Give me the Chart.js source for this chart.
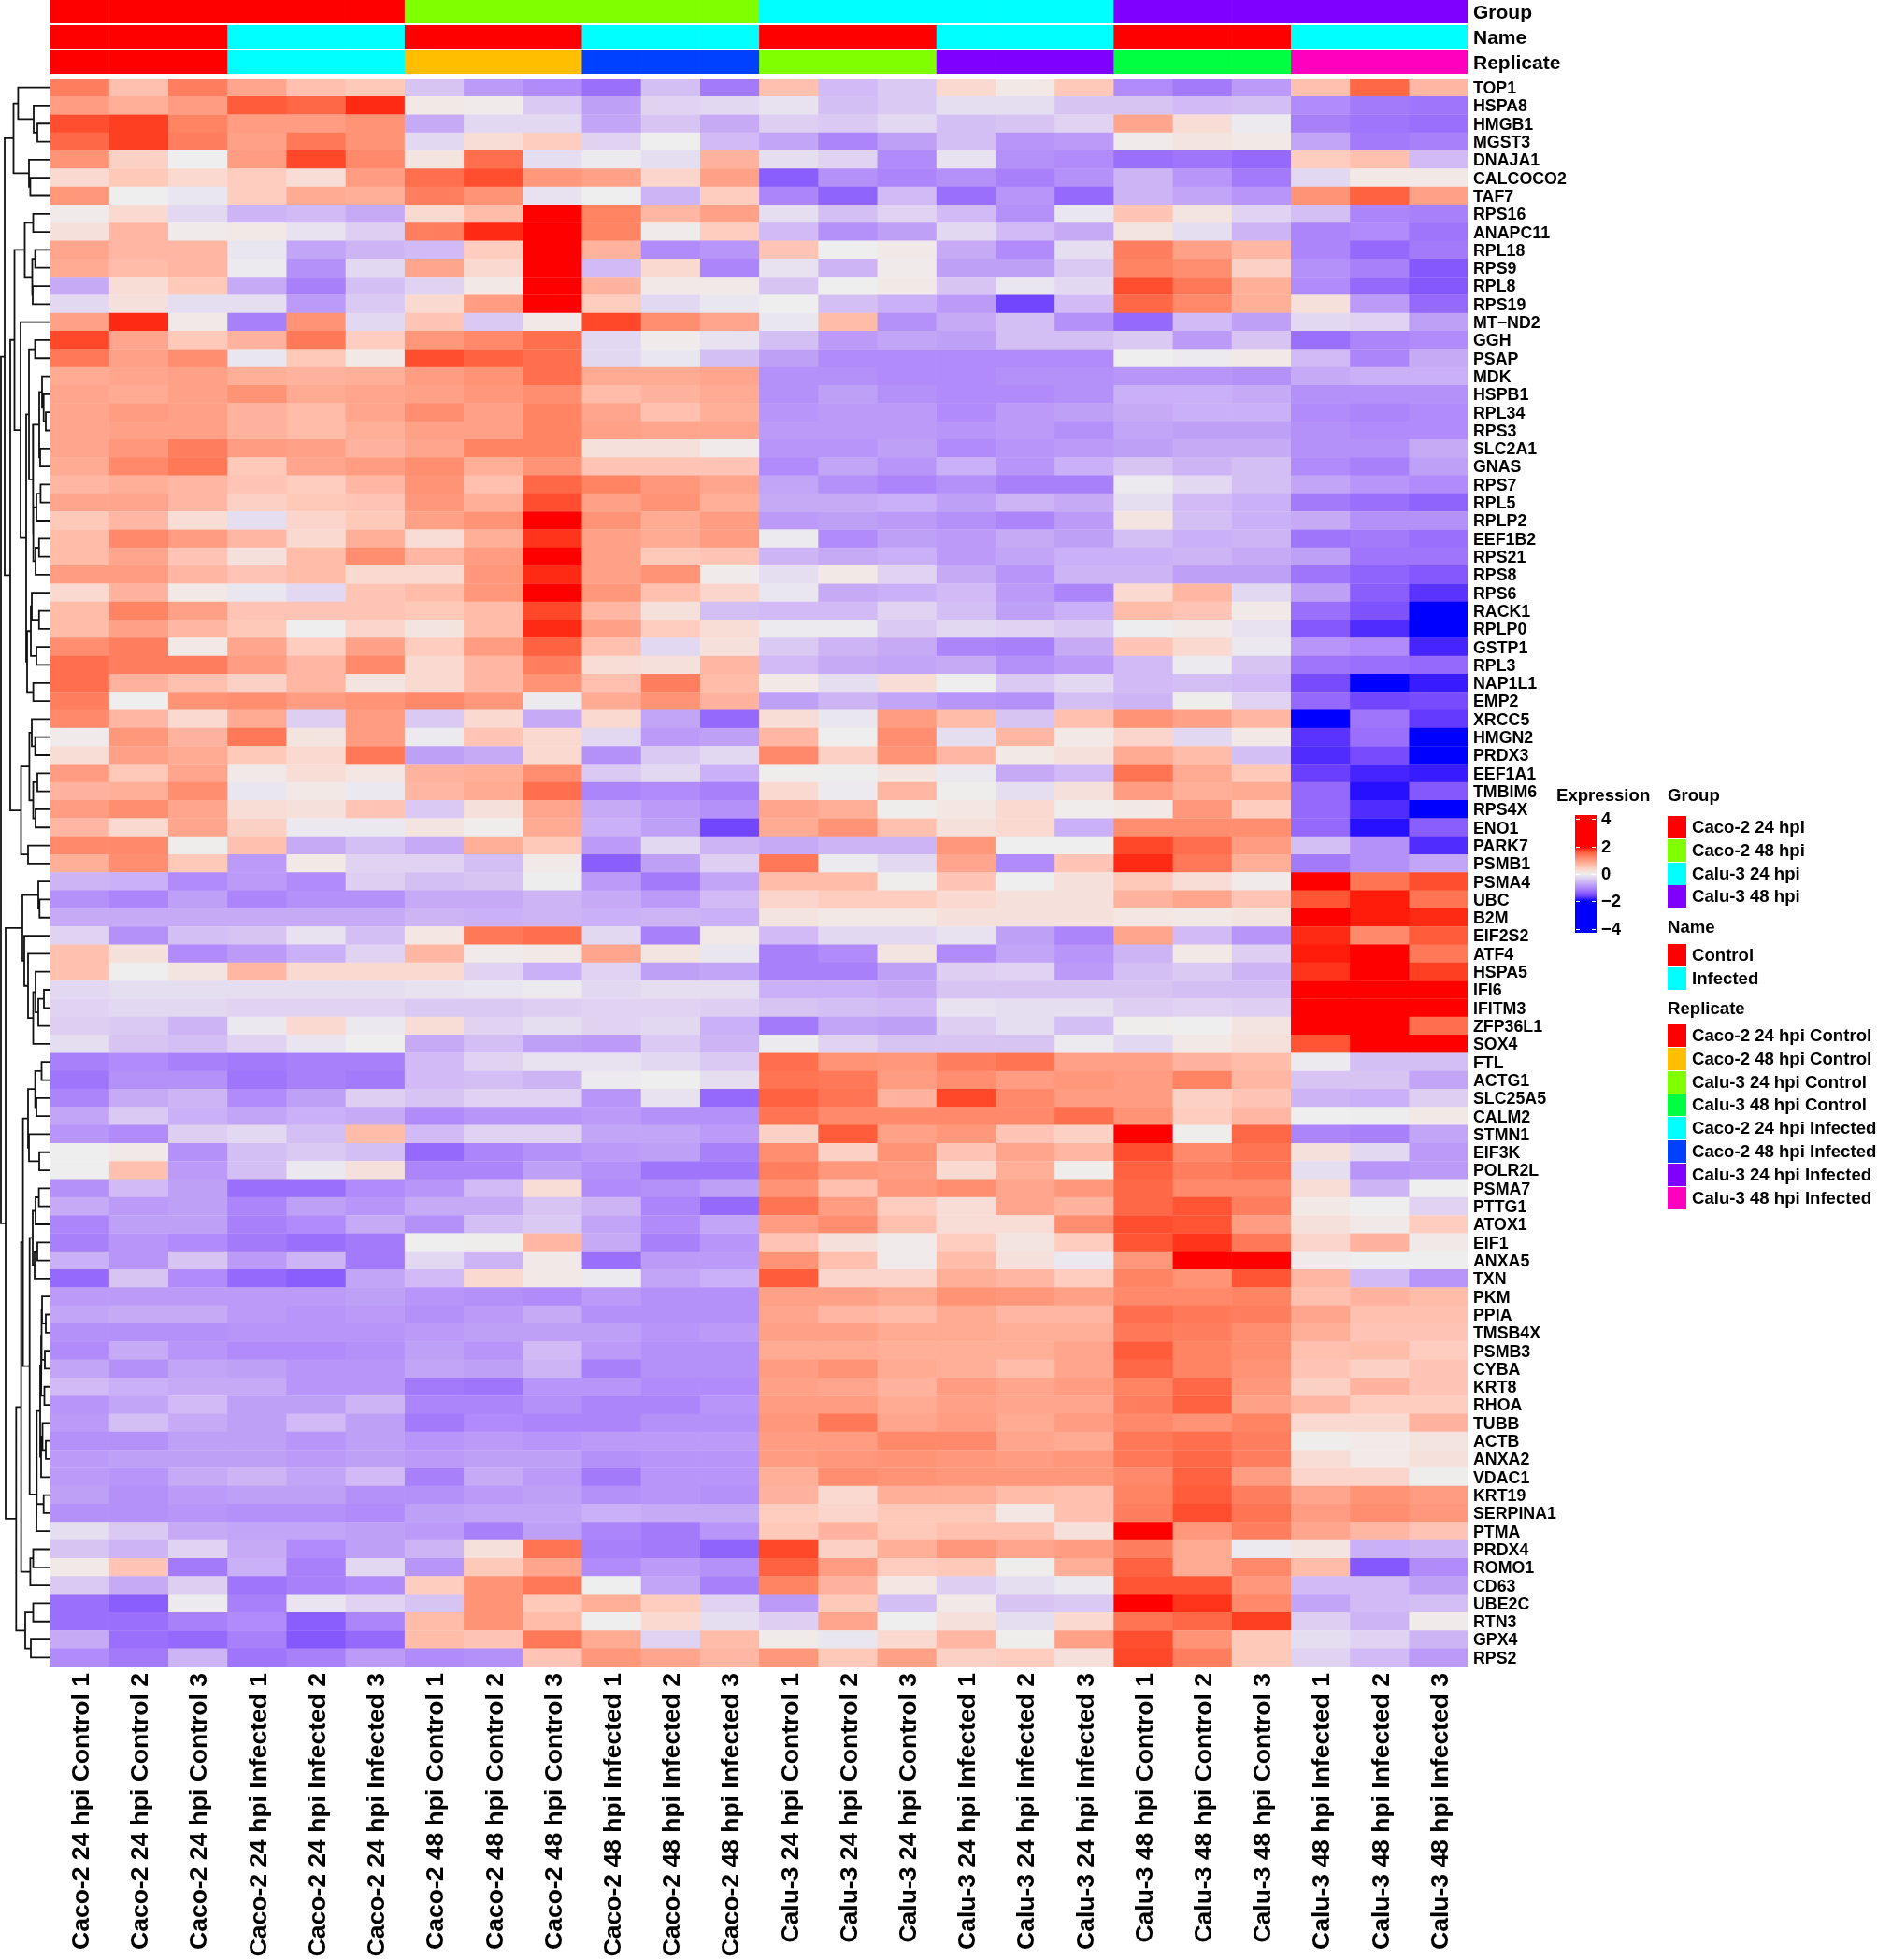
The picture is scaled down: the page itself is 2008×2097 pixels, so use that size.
<!DOCTYPE html>
<html>
<head>
<meta charset="utf-8">
<script src="https://cdn.jsdelivr.net/npm/chart.js@4"></script>
<style>
  body { margin: 0; background: #fff; width: 2008px; height: 2097px; position: relative; overflow: hidden; }
  canvas { position: absolute; }
  .lg { position: absolute; font: bold 18.6px "Liberation Sans", Arial, sans-serif; color: #000; line-height: 24px; white-space: nowrap; }
  .sw { position: absolute; width: 20px; height: 24px; }
</style>
</head>
<body>
<canvas id="heat" style="left:0px;top:0px" width="2008" height="2097"></canvas>
<canvas id="dendro" style="left:0px;top:84px" width="53" height="1699"></canvas>
<canvas id="tracks" style="left:0px;top:-1px" width="1800" height="81"></canvas>
<canvas id="colorbar" style="left:1685px;top:860px" width="100" height="150"></canvas>
<script>
const genes = ["TOP1","HSPA8","HMGB1","MGST3","DNAJA1","CALCOCO2","TAF7","RPS16","ANAPC11","RPL18","RPS9","RPL8","RPS19","MT−ND2","GGH","PSAP","MDK","HSPB1","RPL34","RPS3","SLC2A1","GNAS","RPS7","RPL5","RPLP2","EEF1B2","RPS21","RPS8","RPS6","RACK1","RPLP0","GSTP1","RPL3","NAP1L1","EMP2","XRCC5","HMGN2","PRDX3","EEF1A1","TMBIM6","RPS4X","ENO1","PARK7","PSMB1","PSMA4","UBC","B2M","EIF2S2","ATF4","HSPA5","IFI6","IFITM3","ZFP36L1","SOX4","FTL","ACTG1","SLC25A5","CALM2","STMN1","EIF3K","POLR2L","PSMA7","PTTG1","ATOX1","EIF1","ANXA5","TXN","PKM","PPIA","TMSB4X","PSMB3","CYBA","KRT8","RHOA","TUBB","ACTB","ANXA2","VDAC1","KRT19","SERPINA1","PTMA","PRDX4","ROMO1","CD63","UBE2C","RTN3","GPX4","RPS2"];

const samples = ["Caco-2 24 hpi Control 1","Caco-2 24 hpi Control 2","Caco-2 24 hpi Control 3","Caco-2 24 hpi Infected 1","Caco-2 24 hpi Infected 2","Caco-2 24 hpi Infected 3","Caco-2 48 hpi Control 1","Caco-2 48 hpi Control 2","Caco-2 48 hpi Control 3","Caco-2 48 hpi Infected 1","Caco-2 48 hpi Infected 2","Caco-2 48 hpi Infected 3","Calu-3 24 hpi Control 1","Calu-3 24 hpi Control 2","Calu-3 24 hpi Control 3","Calu-3 24 hpi Infected 1","Calu-3 24 hpi Infected 2","Calu-3 24 hpi Infected 3","Calu-3 48 hpi Control 1","Calu-3 48 hpi Control 2","Calu-3 48 hpi Control 3","Calu-3 48 hpi Infected 1","Calu-3 48 hpi Infected 2","Calu-3 48 hpi Infected 3"];

// one row per gene, one value per sample
const values = [
[1.3,.6,1.3,.9,.6,.5,-.45,-.85,-1,-1.25,-.5,-1.15,.6,-.55,-.4,.3,.1,.5,-1,-1.15,-.85,.6,1.5,.7],
[1,.8,1,1.6,1.5,1.9,.1,.05,-.4,-.8,-.3,-.25,-.15,-.5,-.4,-.2,-.2,-.45,-.45,-.55,-.5,-1,-1.15,-1.2],
[1.7,1.8,1.25,1,1,1.1,-.7,-.25,-.25,-.75,-.45,-.7,-.35,-.4,-.25,-.5,-.45,-.3,.9,.25,-.05,-1.1,-1.2,-1.25],
[1.5,1.8,1.3,.95,1.35,1.1,-.25,.25,.45,-.3,0,-.55,-.75,-1.05,-.8,-.5,-.9,-.85,.05,.15,.1,-.75,-1.15,-1.1],
[1.1,.4,0,1,1.75,1.2,.15,1.45,-.2,-.05,-.2,.75,-.2,-.3,-1,-.15,-.95,-1,-1.25,-1.2,-1.3,.45,.6,-.55],
[.3,.5,.3,.45,.25,1,1.45,1.7,1.05,.95,.35,.95,-1.4,-.95,-1.05,-.95,-1.1,-.95,-.6,-.9,-1.15,-.25,.1,.1],
[1.05,0,-.1,.45,.85,.8,1.3,1.1,-.15,0,-.6,.45,-1.05,-1.35,-.55,-1.25,-.9,-1.3,-.6,-.75,-.9,1.1,1.55,.95],
[.05,.3,-.25,-.6,-.55,-.7,.3,.65,2.3,1.25,.7,.95,-.2,-.5,-.3,-.55,-.95,-.1,.55,.15,-.3,-.5,-1.05,-1.1],
[.2,.7,.05,.1,-.15,-.35,1.3,1.9,2,1.25,.05,.45,-.55,-.95,-.8,-.25,-.55,-.7,.15,-.2,-.6,-1.05,-1,-1.2],
[.9,.7,.7,-.1,-.75,-.6,-.55,.45,2.3,.75,-1,-.9,.55,0,.08,-.7,-1,-.2,1.3,.95,.7,-1.05,-1.3,-1.15],
[.85,.65,.7,-.05,-.95,-.25,.9,.3,2.3,-.55,.3,-1.05,-.15,-.6,.05,-.8,-.8,-.4,1.25,1.15,.4,-.95,-1.1,-1.45],
[-.7,.25,.5,-.7,-1.1,-.5,-.3,.1,2.3,.75,.08,.08,-.45,0,.1,-.45,-.1,-.25,1.7,1.35,.8,-1,-1.3,-1.45],
[-.25,.2,-.2,-.2,-.85,-.4,.3,1,2.3,.45,-.25,-.1,0,-.5,-.65,-.85,-1.6,-.55,1.5,1.2,.8,.2,-.85,-1.3],
[.95,1.9,.08,-1.1,1.1,-.25,.55,-.4,.08,1.75,1.15,.9,-.1,.65,-.95,-.7,-.5,-.95,-1.3,-.55,-.8,-.25,-.3,-.8],
[1.75,.9,.5,.75,1.35,.45,1.05,1.2,1.45,-.25,.05,-.15,-.5,-.85,-.75,-.8,-.5,-.5,-.4,-.85,-.45,-1.25,-1.05,-1],
[1.35,.95,1.15,-.1,.5,.1,1.7,1.55,1.45,-.25,-.1,-.5,-.8,-1,-1,-1,-1,-1,0,-.05,.08,-.55,-1.05,-.7],
[.85,.9,.95,.8,.75,.8,1,1.1,1.45,.85,.85,.9,-.95,-.95,-1,-1,-.95,-.95,-.9,-.9,-.95,-.7,-.65,-.65],
[.9,.85,.95,1.1,.85,.9,.95,1.05,1.15,.65,.75,.85,-.95,-.8,-.95,-1,-1,-.95,-.65,-.65,-.7,-.95,-.95,-.95],
[.9,1,.95,.75,.65,.9,1.15,.95,1.25,.9,.6,.8,-.9,-.85,-.85,-1,-.85,-.8,-.7,-.65,-.65,-1,-1.05,-1],
[.9,.95,.95,.75,.65,.8,.95,.95,1.25,.95,.9,.9,-.85,-.85,-.85,-.9,-.85,-.95,-.75,-.8,-.8,-.95,-1,-1],
[.9,1.05,1.3,1,.95,.75,.9,1.25,1.25,.2,.2,.05,-.9,-.9,-.8,-1,-.9,-.85,-.8,-.7,-.7,-.95,-.95,-.7],
[.85,1.2,1.35,.5,.9,1,1.15,.8,1.1,.55,.55,.55,-1,-.75,-.9,-.65,-.9,-.65,-.45,-.6,-.5,-1,-1.1,-.8],
[.7,.8,.7,.55,.45,.7,1.1,.6,1.5,1.25,1.05,.9,-.75,-.95,-1.05,-.95,-1.1,-1.1,-.05,-.25,-.5,-.75,-.9,-1],
[.9,.9,.7,.4,.5,.55,1.05,.8,1.7,.95,1.1,.8,-.7,-.7,-.65,-.8,-.6,-.7,-.2,-.55,-.65,-1.15,-1.25,-1.35],
[.5,.7,.25,-.2,.35,.5,.95,1.1,2.3,1.1,.85,1,-.85,-.8,-.85,-.95,-1.05,-.85,.15,-.5,-.65,-.7,-.95,-.95],
[.65,1.2,1,.7,.3,.8,.25,.8,1.85,.95,.85,1,-.05,-1,-.8,-.85,-.7,-.8,-.5,-.65,-.6,-1.2,-1.15,-1.25],
[.65,.9,.55,.2,.65,1.15,.7,1,2.3,.95,.5,.55,-.6,-.7,-.65,-.85,-.75,-.65,-.65,-.6,-.7,-.8,-1.2,-1.2],
[1,1,.7,.55,.65,.3,.3,1.05,1.9,.95,1.1,.05,-.2,.1,-.3,-.7,-.9,-.6,-.6,-.8,-.8,-1.2,-1.35,-1.45],
[.3,.75,.1,-.1,-.25,.55,.65,1.05,2.3,1.05,.6,.35,-.1,-.7,-.65,-.55,-.85,-1.05,.3,.7,-.25,-.8,-1.4,-1.75],
[.65,1.25,.95,.55,.55,.55,.5,.65,1.75,.7,.2,-.5,-.55,-.55,-.3,-.5,-.8,-.65,.65,.55,.08,-1.25,-1.5,-2],
[.65,.95,.7,.5,0,.35,.15,.65,1.9,.95,.45,.25,-.05,-.05,-.4,-.25,-.3,-.4,-.03,.08,-.15,-1.45,-1.8,-2.3],
[1.15,1.3,.1,.9,.45,.95,.45,1,1.55,.6,-.25,.2,-.4,-.6,-.7,-1.05,-1.1,-.7,.55,.3,-.08,-.9,-1,-1.85],
[1.45,1.3,1.3,1,.7,1.2,.3,.7,1.3,.25,.2,.7,-.55,-.7,-.75,-.7,-.95,-.85,-.55,-.05,-.45,-1.2,-1.25,-1.3],
[1.45,.75,.6,.4,.7,.15,.3,.7,1.1,.6,1.3,.65,.1,-.2,.25,0,-.4,-.25,-.55,-.5,-.55,-1.55,-2,-1.9],
[1.3,0,1.1,1.15,1,1.1,1.2,1.05,-.05,.85,1.1,.75,-.8,-.6,-.75,-.9,-.95,-.5,-.6,.02,-.3,-1.3,-1.6,-1.55],
[1.2,.7,.3,.85,-.35,1,-.4,.3,-.7,.3,-.75,-1.3,.25,-.1,1,.65,-.45,.6,1.1,.95,.7,-2,-1.2,-1.7],
[.05,1.05,.75,1.35,.15,1,-.05,.55,.3,-.25,-.85,-.8,.7,0,1.15,-.2,.7,.1,.35,-.25,.1,-1.75,-1.25,-2.3],
[.25,.95,.85,.5,.3,1.35,-.8,-.7,.3,-.95,-.4,-.25,1.2,.4,1.1,.7,.1,.2,.85,.65,-.5,-1.8,-1.55,-2.1],
[1,.5,.9,.08,.25,.12,.75,.8,1.15,-.4,-.25,-.65,.03,-.02,.15,-.08,-.7,-.55,1.4,.85,.5,-1.65,-1.85,-1.9],
[.75,.8,1.15,-.1,.1,-.08,.7,.85,1.45,-1.05,-1,-1.1,.3,-.05,.7,.03,-.2,.2,1,.8,.85,-1.3,-1.95,-1.45],
[1,1.15,.9,.25,.2,.55,-.4,.2,.9,-.7,-.85,-.95,.9,.8,.03,.12,.3,.04,.1,1.05,.45,-1.3,-1.8,-2.3],
[.7,.3,.9,.4,-.08,-.08,.15,.02,.85,-.65,-.8,-1.6,.85,1.1,.6,.2,.3,-.65,1.15,1.15,1.15,-1.3,-1.95,-1.4],
[1.2,1.2,.02,.6,-.7,-.5,-.7,.8,.5,-.85,-.25,-.6,-.7,-.6,-.6,1.05,0,0,1.75,1.45,1,-.5,-.95,-1.8],
[.8,1.15,.5,-.85,.1,-.3,-.3,-.5,.08,-1.4,-.8,-.35,1.35,-.05,-.25,.9,-1,.55,1.9,1.35,.8,-1.15,-.95,-.75],
[-.6,-.65,-1,-.85,-1,-.35,-.5,-.45,-.02,-.85,-1.15,-.75,.65,.65,.02,.55,0,.2,.5,.25,.05,2.3,1.4,1.7],
[-.95,-1.05,-.8,-1.05,-.95,-.95,-.7,-.7,-.6,-.7,-.85,-.55,.35,.45,.45,.3,.2,.2,.75,.9,.55,1.65,1.95,1.4],
[-.7,-.7,-.7,-.7,-.7,-.7,-.6,-.65,-.6,-.65,-.6,-.65,.15,.1,.1,.2,.2,.2,.12,.1,.15,2.3,1.95,1.9],
[-.3,-.95,-.5,-.45,-.15,-.5,.12,1.35,1.45,-.25,-1.1,.08,-.55,-.25,-.25,-.15,-.8,-1.05,.9,-.55,-.9,1.9,1.2,1.6],
[.6,.2,-1,-.85,-.65,-.3,.7,.05,.1,.9,.15,-.1,-1.1,-1,.15,-1,-.75,-.9,-.6,.1,-.35,1.95,2.3,1.35],
[.6,0,.15,.7,.3,.3,.3,-.3,-.65,-.3,-.8,-.75,-1.1,-1.1,-.8,-.35,-.3,-.85,-.5,-.4,-.6,1.85,2.3,1.8],
[-.25,-.2,-.2,-.2,-.2,-.2,-.15,-.1,-.05,-.25,-.2,-.2,-.65,-.65,-.7,-.45,-.45,-.45,-.45,-.5,-.5,2.3,2.3,2.3],
[-.3,-.25,-.25,-.3,-.3,-.3,-.4,-.4,-.35,-.3,-.3,-.35,-.45,-.5,-.55,-.15,-.2,-.2,-.35,-.3,-.35,2.3,2.3,2.3],
[-.35,-.4,-.6,-.08,.3,-.08,.25,-.3,-.2,-.3,-.25,-.65,-1.15,-.75,-.8,-.35,-.2,-.5,.03,0,.15,2.3,2,1.45],
[-.2,-.45,-.5,-.3,-.12,0,-.7,-.5,-.8,-.85,-.4,-.6,-.05,-.3,-.45,-.45,-.45,-.05,-.25,.1,.2,1.65,2.3,2.3],
[-1.1,-1,-1.1,-1.15,-1.1,-1.1,-.55,-.3,-.15,-.15,-.25,-.4,1.45,1.1,1.05,1.3,1.4,.95,.95,.75,.65,-.05,-.5,-.5],
[-1.2,-.95,-.95,-1.2,-1.1,-1.15,-.55,-.5,-.6,-.05,0,-.2,1.4,1.35,1,1.15,1,1.05,1,1.25,.7,-.45,-.45,-.75],
[-1.05,-.7,-.6,-1,-.8,-.35,-.45,-.3,-.3,-.9,-.15,-1.3,1.55,1.4,.75,1.75,1.2,1,1,.4,.55,-.6,-.65,-.35],
[-.75,-.4,-.65,-.75,-.65,-.7,-1,-.9,-.9,-.85,-.95,-.95,1.4,1.2,1.2,1.2,1.2,1.45,1.1,.45,.7,0,-.02,.1],
[-.9,-1,-.35,-.25,-.5,.65,-.55,-.3,-.3,-.75,-.75,-.85,.4,1.6,.95,1.05,.55,.4,2.3,.03,1.5,-1.05,-1.1,-.75],
[0,.08,-.95,-.5,-.4,-.5,-1.3,-1.05,-.95,-.85,-.8,-1.1,1.15,.4,1.1,.55,.9,.7,1.7,1.2,1.4,.2,-.25,-.85],
[0,.6,-.85,-.5,-.08,.2,-1.05,-1.05,-.8,-.95,-1.2,-1.2,1.3,1.05,1,.3,.8,.03,1.55,1.3,1.4,-.2,-.9,-.85],
[-.95,-.55,-.8,-1.25,-1.25,-1,-.9,-.55,.25,-1,-.95,-.8,1.1,.6,1.05,1.15,.9,1.05,1.5,1.2,1.2,.25,-.6,0],
[-.7,-.85,-.8,-1.05,-.8,-.9,-.7,-.7,-.45,-.6,-1.05,-1.3,1.4,1,.45,.25,.9,.75,1.5,1.65,1.3,.1,0,-.3],
[-1.05,-.8,-.8,-1.1,-1,-.7,-.95,-.5,-.4,-.75,-1,-.75,1,1.15,.6,.25,.25,1.15,1.7,1.65,1,.2,.08,.45],
[-1.1,-.9,-1,-1.15,-1.25,-1.15,0,.03,.7,-.7,-1.1,-.9,.55,.2,.05,.45,.15,.45,1.65,1.85,1.35,.35,.75,.08],
[-.65,-.9,-.45,-.85,-.6,-1.15,-.25,-.6,.08,-1.25,-.85,-.85,1.1,.6,.05,.65,.2,-.08,1.05,2.1,2,.05,0,0],
[-1.3,-.45,-1,-1.3,-1.4,-.75,-.55,.3,.1,-.05,-.75,-.65,1.6,.35,.35,.8,.7,.45,1.25,1.1,1.65,.7,-.55,-.9],
[-.85,-.85,-.85,-.85,-.85,-.8,-.9,-.95,-1,-.85,-.95,-.95,.95,.95,.85,1.1,1.05,.95,1.2,1.2,1.25,.6,.75,.65],
[-.75,-.7,-.7,-.85,-.9,-.85,-.95,-.85,-.7,-.95,-.95,-.95,.9,.7,.65,.85,.7,.7,1.45,1.35,1.3,.9,.6,.6],
[-.95,-.95,-.95,-.9,-.9,-.9,-.85,-.8,-.8,-.8,-.9,-.85,.95,.95,.85,.85,.8,.8,1.35,1.3,1.15,.8,.55,.55],
[-1,-.7,-.9,-1,-1,-.95,-.8,-.9,-.55,-.85,-.95,-.95,.85,.85,.8,.8,.8,.9,1.6,1.25,1.15,.6,.65,.45],
[-.75,-.95,-.75,-.8,-.9,-.9,-.75,-.8,-.6,-1.1,-.95,-.95,1,1.1,.85,.8,.65,.9,1.5,1.25,1.1,.55,.4,.55],
[-.55,-.65,-.7,-.7,-.9,-.9,-1.15,-1.2,-.9,-.9,-1,-1,.95,.9,.75,1,.9,1,1.25,1.5,1.05,.4,.75,.55],
[-.9,-.75,-.55,-.8,-.8,-.6,-1.05,-1.05,-.95,-1.05,-1.05,-.9,1,1,.85,.95,.9,.9,1.3,1.55,.95,.7,.45,.45],
[-.85,-.5,-.7,-.8,-.55,-.8,-1.15,-1,-1.05,-1.05,-.95,-.95,1.05,1.35,.9,1,.85,1,1.2,1.1,1.25,.3,.3,.75],
[-.95,-.95,-.8,-.8,-.9,-.8,-.9,-.85,-.9,-.85,-.85,-.85,1,1,1.2,1.2,.9,.85,1.35,1.45,1.3,.03,.07,.15],
[-.85,-.8,-.8,-.8,-.85,-.8,-.85,-.8,-.8,-.95,-.9,-.9,1,1.05,1.1,1.05,1,1.05,1.35,1.5,1.3,.25,.07,.2],
[-.85,-.9,-.7,-.6,-.75,-.55,-1.1,-.7,-.85,-1.15,-.9,-.9,.8,1.15,1.1,1.05,1.05,1.05,1.2,1.55,1,.35,.35,.03],
[-.8,-.95,-.85,-.8,-.8,-.95,-.95,-.85,-.8,-.95,-.9,-.95,.75,.3,.8,.8,.65,.6,1.25,1.6,1.3,.9,1.1,1],
[-.95,-.95,-.9,-.95,-.95,-1,-.8,-.75,-.75,-.65,-.7,-.7,.45,.35,.5,.5,.12,.6,1.3,1.7,1.4,1,1.15,1.05],
[-.2,-.4,-.7,-.75,-.75,-.8,-.85,-1.1,-.8,-1.05,-1.15,-.9,.5,.75,.5,.6,.6,.2,2.1,1.05,1.3,.9,.7,.55],
[-.45,-.6,-.3,-.7,-1,-.8,-.6,.2,1.4,-1.1,-1.15,-1.35,1.75,.4,.8,1.05,.9,1,1.3,.85,-.05,.15,-.65,-.6],
[.08,.55,-1.15,-.65,-1.1,-.25,-.9,.5,.9,-1,-.85,-.95,1.55,1,.45,.5,.03,.8,1.55,.85,1.2,.65,-1.45,-1],
[-.4,-.7,-.35,-1.2,-1.1,-1,.45,1.1,1.35,0,-.75,-1.1,1.25,.75,.12,-.35,-.2,-.08,1.65,1.65,1.05,-.55,-.55,-.8],
[-1.25,-1.4,-.05,-1.1,-.12,-.3,-.45,1.1,.5,.8,.45,-.3,-.85,.5,-.5,.08,-.45,-.4,2.1,1.85,1.2,-.75,-.55,-.5],
[-1.25,-1.25,-1.1,-1,-1.4,-1.05,.65,1.1,.65,0,.3,-.2,-.35,.9,0,.2,-.2,.3,1.4,1.5,1.8,-.35,-.6,.05],
[-.7,-1.25,-1.3,-1.1,-1.45,-1.3,.65,.55,1.35,.85,-.3,.65,.06,-.1,.3,.7,.03,.95,1.7,1.1,.5,-.2,-.3,-.6],
[-1,-1.15,-.6,-1.2,-1.1,-.85,-1,-.95,.55,1.05,.9,.7,1.05,.5,.95,.4,.45,.2,1.75,1.3,.5,-.3,-.55,-.85]
];

// row clustering: [merge depth, left, right], a plain number is a row index
const rowTree = [1,
 [5,
  [14.5,
   [19.4,0,[36,1,[40,2,3]]],
   [31,4,[32.4,5,6]]],
  [11,
   [15.5,
    [26.5,[35.5,7,8],[34.5,[37.6,9,10],[35,11,12]]],
    [22,13,
     [28,
      [31,[37.5,14,15],
       [35.2,
        [42,[45,16,[46.7,17,[49,18,19]]],[43,20,21]],
        [35.6,[39,[43.4,22,23],24],[38,[41.8,25,26],27]]]],
      [29,[33,[34,28,[41.8,29,30]],[39,31,32]],[35.6,33,34]]]]],
   [22.5,
    [31.4,[34,35,[37.6,36,37]],[35.5,[40,38,39],[38,40,41]]],
    [30,42,43]]]],
 [6,
  [24,
   [41,44,[42.3,45,46]],
   [26,47,[30,48,[35.5,[38,49,[41,[47,50,51],52]],53]]]],
  [17.3,
   [22.6,
    [24.6,
     [30,[37.6,[44.5,54,55],[39,56,57]],[31,58,[42,59,60]]],
     [31.7,
      [35,[38,[41.6,61,62],63],[37,[40,64,65],66]],
      [39,[39.3,[43,[44,[44.5,[45,67,[49,68,69]],[48,70,71]],[47.5,72,73]],[44,[45.5,74,[49,75,76]],77]],[46.7,78,79]],80]]],
    [32.4,[35.5,81,82],83]],
   [27,[35.5,84,85],[33,86,87]]]]];

const trackNames = ["Group","Name","Replicate"];
const groupLevels = ["Caco-2 24 hpi","Caco-2 48 hpi","Calu-3 24 hpi","Calu-3 48 hpi"];
const groupColors = ["#FF0000","#80FF00","#00FFFF","#8000FF"];
const nameLevels = ["Control","Infected"];
const nameColors = ["#FF0000","#00FFFF"];
const replicateLevels = ["Caco-2 24 hpi Control","Caco-2 48 hpi Control","Calu-3 24 hpi Control","Calu-3 48 hpi Control","Caco-2 24 hpi Infected","Caco-2 48 hpi Infected","Calu-3 24 hpi Infected","Calu-3 48 hpi Infected"];
const replicateColors = ["#FF0000","#FFBF00","#80FF00","#00FF40","#00FFFF","#0040FF","#8000FF","#FF00BF"];
const colorbarTicks = [4,2,0,-2,-4];
const colorbarStops = [-4.3,-2,-1.6,-1.2,-.8,-.4,0,.4,.8,1.2,1.6,2,4.3];

const boldFont = "Liberation Sans";

// colorRamp2 style scale: blue, #EEEEEE, red at -2, 0, 2, mixed in Lab space
function toLab(r, g, b) {
  const f = (c) => { c /= 255; return c > 0.04045 ? Math.pow((c + 0.055) / 1.055, 2.4) : c / 12.92; };
  const R = f(r), G = f(g), B = f(b);
  const p = (t) => (t > 0.008856 ? Math.cbrt(t) : 7.787 * t + 16 / 116);
  const X = p((0.4124 * R + 0.3576 * G + 0.1805 * B) / 0.95047);
  const Y = p(0.2126 * R + 0.7152 * G + 0.0722 * B);
  const Z = p((0.0193 * R + 0.1192 * G + 0.9505 * B) / 1.08883);
  return [116 * Y - 16, 500 * (X - Y), 200 * (Y - Z)];
}
function fromLab(L, a, b) {
  const Y = (L + 16) / 116, X = a / 500 + Y, Z = Y - b / 200;
  const q = (t) => (t * t * t > 0.008856 ? t * t * t : (t - 16 / 116) / 7.787);
  const x = q(X) * 0.95047, y = q(Y), z = q(Z) * 1.08883;
  const g = (c) => {
    c = c > 0.0031308 ? 1.055 * Math.pow(c, 1 / 2.4) - 0.055 : 12.92 * c;
    return Math.round(Math.min(1, Math.max(0, c)) * 255);
  };
  return "rgb(" + g(3.2406 * x - 1.5372 * y - 0.4986 * z) + "," + g(-0.9689 * x + 1.8758 * y + 0.0415 * z) + "," + g(0.0557 * x - 0.204 * y + 1.057 * z) + ")";
}
const labBlue = toLab(0, 0, 255), labMid = toLab(238, 238, 238), labRed = toLab(255, 0, 0);
function colorFor(v) {
  const t = Math.pow(Math.min(1, Math.abs(v) / 2), 1.1);
  const end = v < 0 ? labBlue : labRed;
  return fromLab(labMid[0] + (end[0] - labMid[0]) * t, labMid[1] + (end[1] - labMid[1]) * t, labMid[2] + (end[2] - labMid[2]) * t);
}

// scale reserves half a label at each end, the small charts need the full height
function noLabelPadding(s) {
  s.paddingTop = 0;
  s.paddingBottom = 0;
}

// labels sit a little below the row middle, only the tick text moves, not the bars
function nudgeLabels(s, dy) {
  const base = Object.getPrototypeOf(s).getPixelForTick;
  s.getPixelForTick = function (i) { return base.call(this, i) + dy; };
}

// Heatmap: floating bars, one dataset per sample, slightly oversized so no seams show
new Chart(document.getElementById("heat"), {
  type: "bar",
  data: {
    labels: genes,
    datasets: samples.map((s, c) => ({
      label: s,
      data: genes.map(() => [c, c + 1.01]),
      backgroundColor: values.map((row) => colorFor(row[c])),
      borderWidth: 0,
      barPercentage: 1.02,
      categoryPercentage: 1,
      grouped: false,
    })),
  },
  options: {
    indexAxis: "y",
    responsive: false,
    animation: false,
    layout: { padding: { left: 53, top: 84 }, autoPadding: false },
    plugins: { legend: { display: false }, tooltip: { enabled: false } },
    scales: {
      x: {
        type: "linear",
        min: 0,
        max: 24,
        grid: { display: false, drawTicks: false },
        border: { display: false },
        afterFit: (s) => { s.height = 314; },
        afterBuildTicks: (s) => { s.ticks = samples.map((_, i) => ({ value: i + 0.55 })); },
        ticks: {
          autoSkip: false,
          minRotation: 90,
          maxRotation: 90,
          padding: 7,
          color: "#000",
          font: { family: boldFont, weight: "bold", size: 26.5 },
          callback: (v) => samples[Math.floor(v)],
        },
      },
      y: {
        type: "category",
        position: "right",
        grid: { display: false, drawTicks: false },
        border: { display: false },
        afterFit: (s) => { s.width = 438; nudgeLabels(s, 1.5); },
        ticks: { autoSkip: false, padding: 6, color: "#000", font: { family: boldFont, weight: "bold", size: 17.8 } },
      },
    },
  },
});

// Annotation tracks above the heatmap
function trackColor(t, name) {
  const base = name.slice(0, name.lastIndexOf(" "));
  const state = base.slice(base.lastIndexOf(" ") + 1);
  if (t == 0) return groupColors[groupLevels.indexOf(base.slice(0, base.lastIndexOf(" ")))];
  if (t == 1) return nameColors[nameLevels.indexOf(state)];
  return replicateColors[replicateLevels.indexOf(base)];
}
new Chart(document.getElementById("tracks"), {
  type: "bar",
  data: {
    labels: trackNames,
    datasets: samples.map((s, c) => ({
      label: s,
      data: trackNames.map(() => [c, c + 1.01]),
      backgroundColor: trackNames.map((_, t) => trackColor(t, s)),
      borderWidth: 0,
      barPercentage: 25 / 27,
      categoryPercentage: 1,
      grouped: false,
    })),
  },
  options: {
    indexAxis: "y",
    responsive: false,
    animation: false,
    layout: { padding: { left: 53 }, autoPadding: false },
    plugins: { legend: { display: false }, tooltip: { enabled: false } },
    scales: {
      x: { type: "linear", min: 0, max: 24, display: false },
      y: {
        type: "category",
        position: "right",
        grid: { display: false, drawTicks: false },
        border: { display: false },
        afterFit: (s) => { s.width = 230; noLabelPadding(s); nudgeLabels(s, 2); },
        ticks: { autoSkip: false, padding: 6, color: "#000", font: { family: boldFont, weight: "bold", size: 21 } },
      },
    },
  },
});

// Row dendrogram: one line with gaps, walked from the tree
const dendroPoints = [];
const leafDepth = 53;
function walk(node) {
  if (typeof node == "number") return { x: leafDepth, y: node + 0.5 };
  const a = walk(node[1]), b = walk(node[2]);
  dendroPoints.push({ x: a.x, y: a.y }, { x: node[0], y: a.y }, { x: node[0], y: b.y }, { x: b.x, y: b.y }, { x: NaN, y: NaN });
  return { x: node[0], y: (a.y + b.y) / 2 };
}
walk(rowTree);
new Chart(document.getElementById("dendro"), {
  type: "scatter",
  data: { datasets: [{ data: dendroPoints, showLine: true, spanGaps: false, borderColor: "#111", borderWidth: 1.8, pointRadius: 0 }] },
  options: {
    responsive: false,
    animation: false,
    layout: { autoPadding: false },
    plugins: { legend: { display: false }, tooltip: { enabled: false } },
    scales: {
      x: { type: "linear", min: 0, max: leafDepth, display: false },
      y: { type: "linear", min: 0, max: genes.length, reverse: true, display: false },
    },
  },
});

// Colour key
const colorbarMarks = {
  id: "colorbarMarks",
  afterDatasetsDraw(chart) {
    const { ctx, chartArea, scales } = chart;
    ctx.save();
    ctx.strokeStyle = "#fff";
    ctx.lineWidth = 1;
    colorbarTicks.forEach((t) => {
      const y = Math.round(scales.y.getPixelForValue(t)) + 0.5;
      ctx.beginPath();
      ctx.moveTo(chartArea.left + 1, y);
      ctx.lineTo(chartArea.left + 5, y);
      ctx.moveTo(chartArea.right - 5, y);
      ctx.lineTo(chartArea.right - 1, y);
      ctx.stroke();
    });
    ctx.restore();
  },
};
new Chart(document.getElementById("colorbar"), {
  type: "bar",
  plugins: [colorbarMarks],
  data: {
    labels: ["Expression"],
    datasets: [{
      data: [[colorbarStops[0], colorbarStops[colorbarStops.length - 1]]],
      barPercentage: 1,
      categoryPercentage: 1,
      borderWidth: 0,
      backgroundColor: (c) => {
        const area = c.chart.chartArea;
        if (!area) return "#fff";
        const g = c.chart.ctx.createLinearGradient(0, area.bottom, 0, area.top);
        colorbarStops.forEach((v) => {
          g.addColorStop((v - colorbarStops[0]) / (colorbarStops[colorbarStops.length - 1] - colorbarStops[0]), colorFor(v));
        });
        return g;
      },
    }],
  },
  options: {
    responsive: false,
    animation: false,
    layout: { padding: { top: 12, bottom: 12 }, autoPadding: false },
    plugins: { legend: { display: false }, tooltip: { enabled: false } },
    scales: {
      x: { display: false },
      y: {
        type: "linear",
        position: "right",
        min: -4.3,
        max: 4.3,
        grid: { display: false, drawTicks: false },
        border: { display: false },
        afterFit: (s) => { s.width = 77; noLabelPadding(s); nudgeLabels(s, 1); },
        afterBuildTicks: (s) => { s.ticks = colorbarTicks.map((t) => ({ value: t })); },
        ticks: {
          padding: 5,
          color: "#000",
          font: { family: boldFont, weight: "bold", size: 18.5 },
          callback: (v) => String(v).replace("-", "−"),
        },
      },
    },
  },
});

// Legends next to the colour key, as plain text
function addText(text, x, y) {
  const d = document.createElement("div");
  d.className = "lg";
  d.style.left = x + "px";
  d.style.top = y - 12 + "px";
  d.textContent = text;
  document.body.appendChild(d);
}
function addLegend(title, titleY, levels, colors, firstY) {
  addText(title, 1784, titleY);
  levels.forEach((l, i) => {
    const y = firstY + i * 24.8;
    const s = document.createElement("div");
    s.className = "sw";
    s.style.left = "1784px";
    s.style.top = y - 12 + "px";
    s.style.background = colors[i];
    document.body.appendChild(s);
    addText(l, 1810, y);
  });
}
addText("Expression", 1665, 851);
addLegend("Group", 851, groupLevels, groupColors, 885);
addLegend("Name", 992, nameLevels, nameColors, 1022);
addLegend("Replicate", 1079, replicateLevels, replicateColors, 1108);
</script>
</body>
</html>
